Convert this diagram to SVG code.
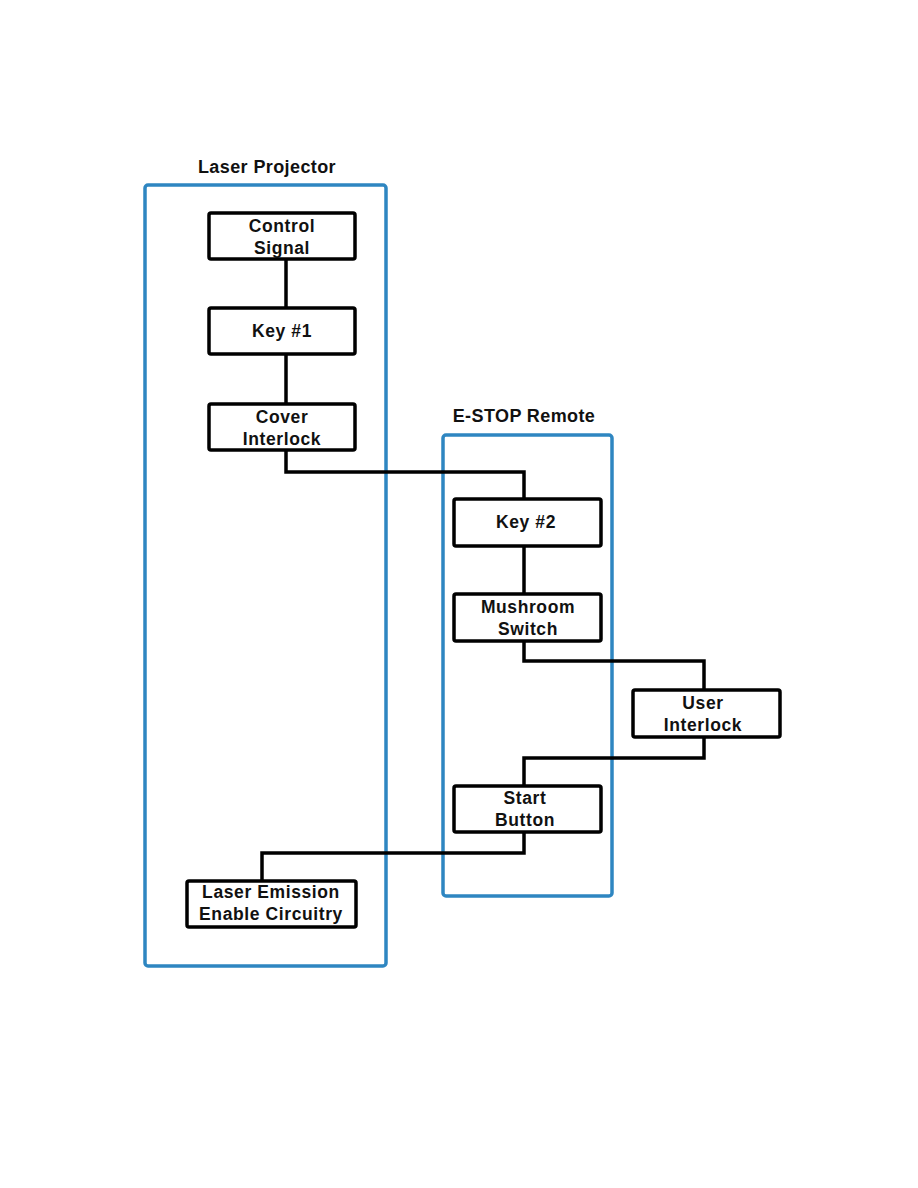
<svg xmlns="http://www.w3.org/2000/svg" width="918" height="1188" viewBox="0 0 918 1188">
<style>
.container{fill:none;stroke:#2E86C1;stroke-width:3.5}
.box{fill:#fff;stroke:#000;stroke-width:3.5}
.wire{fill:none;stroke:#000;stroke-width:3.5}
text{font-family:"Liberation Sans",Arial,sans-serif;font-weight:bold;font-size:17.5px;letter-spacing:0.6px;text-anchor:middle;fill:#111}
.title{font-size:18px;letter-spacing:0.4px}
</style>
<rect width="918" height="1188" fill="#fff"/>
<g id="laser-projector">
<rect class="container" x="145" y="185" width="241" height="781" rx="3"/>
<text class="title" x="267" y="173">Laser Projector</text>
</g>
<g id="estop-remote">
<rect class="container" x="443" y="435" width="169" height="461" rx="3"/>
<text class="title" x="524" y="422">E-STOP Remote</text>
</g>
<g id="connectors">
<path class="wire" d="M286 259 V308"/>
<path class="wire" d="M286 354 V404"/>
<path class="wire" d="M286 450 V472 H524 V499"/>
<path class="wire" d="M524 546 V594"/>
<path class="wire" d="M524 641 V661 H704 V690"/>
<path class="wire" d="M704 737 V758 H524 V786"/>
<path class="wire" d="M524 832 V853 H262 V881"/>
</g>
<g id="control-signal">
<rect class="box" x="209" y="213" width="146" height="46" rx="2"/>
<text x="282" y="232">Control</text>
<text x="282" y="254">Signal</text>
</g>
<g id="key1">
<rect class="box" x="209" y="308" width="146" height="46" rx="2"/>
<text x="282" y="337">Key #1</text>
</g>
<g id="cover-interlock">
<rect class="box" x="209" y="404" width="146" height="46" rx="2"/>
<text x="282" y="423">Cover</text>
<text x="282" y="445">Interlock</text>
</g>
<g id="key2">
<rect class="box" x="454" y="499" width="147" height="47" rx="2"/>
<text x="526" y="528">Key #2</text>
</g>
<g id="mushroom-switch">
<rect class="box" x="454" y="594" width="147" height="47" rx="2"/>
<text x="528" y="613">Mushroom</text>
<text x="528" y="635">Switch</text>
</g>
<g id="user-interlock">
<rect class="box" x="633" y="690" width="147" height="47" rx="2"/>
<text x="703" y="709">User</text>
<text x="703" y="731">Interlock</text>
</g>
<g id="start-button">
<rect class="box" x="454" y="786" width="147" height="46" rx="2"/>
<text x="525" y="804">Start</text>
<text x="525" y="826">Button</text>
</g>
<g id="laser-emission">
<rect class="box" x="187" y="881" width="169" height="46" rx="2"/>
<text x="271" y="898">Laser Emission</text>
<text x="271" y="920">Enable Circuitry</text>
</g>
</svg>
